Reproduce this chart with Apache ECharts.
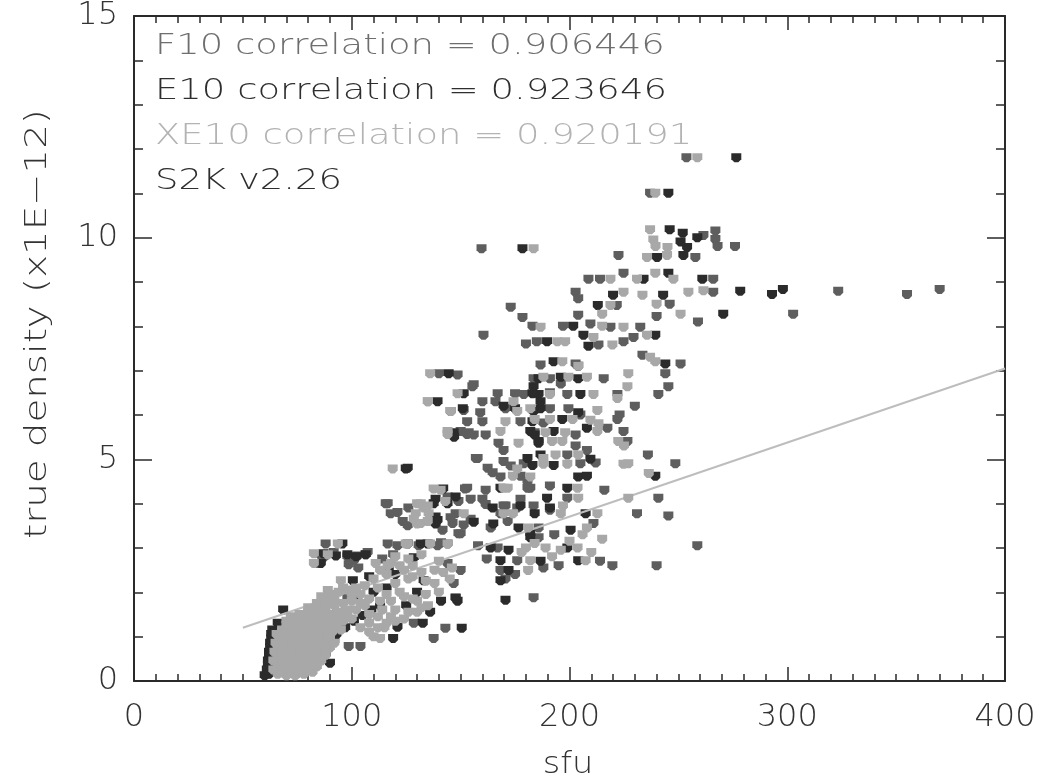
<!DOCTYPE html>
<html>
<head>
<meta charset="utf-8">
<script src="https://cdn.jsdelivr.net/npm/echarts@6/dist/echarts.min.js"></script>
<style>
  html, body { margin: 0; padding: 0; background: #fff; }
  #chart { width: 1045px; height: 780px; }
</style>
</head>
<body>
<div id="chart"></div>
<script>
// correlation labels shown in the top-left corner
var legendLines = [
  'F10 correlation = 0.906446',
  'E10 correlation = 0.923646',
  'XE10 correlation = 0.920191',
  'S2K v2.26'
];

// sfu vs true density (x1E-12)
var f10Points = [
  [253.7,11.8],[237,11.0],[159.6,9.75],[222.5,9.6],[261.5,10.05],[267,10.15],[267,9.96],[268,9.8],[276,9.8],
  [257.8,9.55],[224.8,9.2],[208.7,9.06],[214,9.06],[266,9.06],[202.8,8.77],[204,8.62],[246,8.5],[266,8.77],
  [173,8.43],[178.4,8.2],[221.7,8.47],[259,8.1],[302.7,8.27],[323.4,8.79],[355,8.72],[370,8.83],[204,8.25],
  [240,8.22],[183,8.0],[197,8.0],[209.6,8.05],[218.8,7.98],[232.5,7.98],[160.5,7.8],[229.4,7.75],[213.3,7.58],
  [224.8,7.65],[180,7.6],[185,7.65],[233.5,7.35],[251,7.15],[186.7,7.13],[202.8,7.15],[244,6.93],[183.5,6.82],
  [191,6.82],[215.7,6.82],[245.4,6.64],[191,6.5],[179,6.46],[199,6.46],[222,6.46],[240.8,6.46],[170.6,6.14],
  [191,6.14],[199.5,6.14],[223,6.0],[188,5.82],[205,6.0],[222,5.9],[217.4,5.7],[184,5.6],[202.8,5.55],
  [224.8,5.63],[208,5.2],[202.8,5.3],[226.6,5.4],[199,5.1],[179,4.9],[205,4.9],[212,4.92],[248.6,4.9],
  [177.5,4.62],[182,4.35],[191,4.4],[240.8,4.12],[169.7,3.95],[183.5,3.95],[199,4.12],[168.3,3.77],[191,3.85],
  [231,3.77],[245.4,3.72],[163.8,3.45],[185.8,3.45],[185.8,3.23],[167,3.0],[258.7,3.05],[176,2.71],[195,2.6],
  [219.7,2.6],[240,2.6],[168.3,2.49],[175,2.4],[170.6,2.3],[183.5,1.88],
  [155.4,6.64],[167,6.48],[175,6.48],[160,6.3],[151.4,6.1],[159,6.05],[166,6.3],[177.5,5.85],[153,5.85],
  [160,5.85],[150,5.63],[153.7,5.6],[156,5.55],[161.5,5.55],[167.4,5.36],[169.7,5.2],[157.8,5.02],[162.4,4.8],
  [164.7,4.7],[169.7,4.95],[173,4.85],[168.3,4.6],[180.7,4.5],[153,4.35],[144,4.15],[161.5,4.3],[180.7,4.35],
  [116.5,4.0],[121,3.8],[126,3.9],[154.6,4.1],[160,4.1],[161.5,3.98],[170.6,3.95],[177.5,4.1],[117.9,3.77],
  [123.4,3.6],[147.7,3.77],[176,3.9],[125.7,3.5],[141.7,3.4],[146.3,3.55],[151.4,3.52],[171.6,3.6],[150,3.32],
  [88,3.09],[116.5,3.09],[121,3.05],[130.7,3.05],[139.4,3.05],[91.7,2.9],[102.7,2.82],[107.3,2.9],[85.8,2.83],
  [98,2.8],[106.4,2.85],[98.6,2.62],[103,2.55],
  [140,6.93],[148.6,6.9],[156,6.68],[145.4,6.08],[153,5.56],[157,5.02],[152,4.33],[115.6,4.0],[149,4.05],
  [145.4,3.68],[154.6,3.65],[149,3.32],[144,3.09],[141,3.12],[87,2.78],[101,2.72],[114,2.75],[119,2.85],
  [144,2.65],[150,2.49],[146.8,2.2],[98,1.88],[84.4,2.65],
  [137.6,0.96],[143,1.19],[128.5,1.3],[98.6,0.78],[104,0.78],[214,2.7],[147.7,1.88],[79,0.25],
  [158,3.05],[162,2.75],[188,2.55],[193,3.3],[211,3.55],[216,4.3],[196,6.7],[230,6.2],[236,5.1]
];

var e10Points = [
  [276.6,11.8],[245.4,11.0],[178.4,9.75],[246,10.18],[252,10.1],[251,9.9],[258.7,10.0],[254,9.78],[240.2,9.55],
  [252.3,9.6],[245.4,9.2],[234,9.06],[261,9.06],[220,8.7],[243,8.7],[278.4,8.79],[293,8.72],[298,8.83],
  [213,8.47],[270.6,8.27],[201.7,8.0],[206.4,7.8],[239.4,7.8],[189.7,7.65],[208.7,7.55],[244,7.15],[192.7,7.2],
  [204,7.1],[185.8,6.82],[196,6.85],[204,6.82],[185.8,6.46],[205,6.46],[175,6.14],[186.7,6.14],[204,6.05],
  [196.7,5.9],[182,5.63],[192.7,5.63],[208,5.7],[185.8,5.4],[186.7,5.1],[209.6,5.0],[183,4.86],[192.7,4.86],
  [204,4.6],[208,4.62],[239.4,4.62],[199,4.35],[189.7,4.12],[177.5,3.95],[191,3.9],[184,3.77],[207.4,3.77],
  [176.6,3.45],[200.5,3.4],[182,3.23],[163.8,3.0],[172,2.95],[199,3.0],[168.3,2.71],[186.7,2.7],[204,2.71],
  [172,2.49],[168.3,2.26],[170.6,1.82],[150.5,1.19],
  [183.5,6.64],[183,6.48],[151.4,6.48],[139.4,6.3],[169.7,6.2],[186.7,6.3],[183.5,6.08],[183,5.85],[146.8,5.6],
  [184,5.55],[185.8,5.36],[180.7,5.02],[124.8,4.78],[168.3,4.35],[138.5,4.1],[147.7,4.15],[164.7,3.9],
  [138.5,3.54],[156,3.58],[165,3.54],[182,3.32],[95.7,3.09],[125.7,3.09],[134.9,3.09],[98,2.85],[87,2.87],
  [92.7,2.82],[85.8,2.65],[102,2.8],
  [144.5,6.93],[151,6.14],[147,5.5],[125.7,4.8],[142,4.33],[137.6,4.0],[144,4.0],[138.5,3.7],[139.4,3.62],
  [131.7,3.09],[106.4,2.85],[128.5,2.78],[117,2.49],[133,2.26],[147.7,1.86],[100.5,2.26],[101,1.88],
  [119,0.96],[121,1.21],[132.6,1.3],[141,1.8],[148.6,1.8],
  [62,0.15],[61.5,0.35],[62,0.55],[62.5,0.75],[63,0.95],[63.5,1.15],[60,0.12],[66,1.3],[68.5,1.6],
  [61,0.25],[61.5,0.45],[62,0.65],[62.5,0.85],[63,1.05],
  [93,1.05],[97,1.2],[101,1.35],[105,1.48],[109,1.6],[113,1.7],[88,0.6],[90,0.4],[92,0.9],
  [110,2.0],[116,2.1],[125,1.7],[130,2.0],[136,1.55],[120,2.4],[108,2.35]
];

var xe10Points = [
  [258.7,11.8],[239.4,11.0],[183.5,9.75],[237,10.18],[238.5,9.95],[239.5,9.8],[245,9.78],[235.6,9.55],[244.8,9.6],
  [239.4,9.2],[218.8,9.06],[231,9.06],[247.7,9.06],[224.8,8.77],[233.5,8.7],[240,8.5],[254.6,8.77],[261.5,8.8],
  [218.8,8.47],[251,8.27],[215,8.27],[186.7,7.98],[215,8.0],[224.8,7.98],[211,7.75],[235.6,7.8],[194.4,7.65],
  [198,7.65],[219.7,7.58],[237,7.3],[239.4,7.2],[196.7,7.2],[204,7.1],[227,6.93],[188,6.85],[199.5,6.85],
  [208,6.85],[226.6,6.64],[222,6.37],[191,6.46],[211,6.46],[182,6.14],[212.8,6.1],[184,5.9],[191,5.9],
  [201.4,5.9],[209.6,5.88],[213.3,5.8],[189,5.6],[198,5.6],[212.8,5.63],[192,5.4],[196.7,5.4],[222.4,5.4],
  [225,5.3],[193.6,5.1],[204,5.1],[188,4.89],[199,4.89],[224.8,4.89],[227,4.9],[174,4.62],[182,4.6],
  [236.4,4.68],[169.7,4.35],[203.7,4.35],[204,4.12],[227,4.12],[197,3.95],[174,3.77],[196,3.77],[212.8,3.77],
  [181,3.45],[208,3.45],[215,3.2],[180,3.0],[189,3.0],[203.7,3.0],[182,2.71],[207.4,2.71],[181,2.49],
  [148.6,6.48],[134.9,6.3],[174.3,6.3],[145.4,6.08],[176,6.08],[170.6,5.85],[144,5.63],[168.3,5.63],[176.6,5.36],
  [188,5.02],[118.8,4.78],[176,4.78],[140.8,4.3],[171.6,4.35],[130,4.0],[143,4.05],[133,3.9],[129.4,3.77],
  [135.3,3.77],[151.4,3.77],[169.7,3.77],[130,3.54],[144,3.09],[82.6,2.87],[93.6,3.09],[124.8,3.09],[89,2.85],
  [82.6,2.65],
  [136,6.93],[135,6.3],[144,5.56],[137.6,4.33],[131.7,4.0],[134.9,3.95],[128.5,3.65],[131.7,3.55],[134.9,3.6],
  [125.7,3.09],[136,3.09],[116.5,2.6],[113,1.8],[116,1.95],[120,2.2],[124,2.5],[113,2.5],[118,2.65],
  [122,2.0],[126,2.3],[128,1.85],[95,2.26],[89,2.04],
  [110,1.0],[113,0.96],[115,1.2],[108,1.3],[112,1.45],[118,1.45],[124,1.4],[130,1.55],[135,1.7],[140,2.0],
  [145,2.3],[138,2.5],[132,2.45],[128,2.6],[104,1.75],[100,1.95],[96,2.1],[106,2.15],
  [104,1.2],[108,1.1],[112,1.2],[116,1.3],[120,1.35],[108,1.5],[114,1.6],[120,1.6],[126,1.55],[132,1.65],
  [104,1.95],[108,1.85],[112,2.1],[118,1.8],[124,1.9],[130,1.8],[134,1.95],[138,2.2],[142,2.45],[110,2.3],
  [116,2.4],[122,2.6],[128,2.35],[134,2.25],[140,2.7],[146,2.55],[120,2.8],[126,2.75],[132,2.85],[111,2.65],
  [178,2.9],[184,3.1],[192,2.8],[196,2.95],[200,3.15],[206,3.3],[210,2.9],
  [66,0.15],[70,0.12],[74,0.12],[78,0.15],[82,0.2],
  [66,0.35],[70,0.35],[74,0.35],[78,0.35],[82,0.4],[86,0.45],
  [66,0.55],[70,0.55],[74,0.55],[78,0.55],[82,0.6],[86,0.65],[90,0.75],
  [66,0.75],[70,0.75],[74,0.75],[78,0.75],[82,0.8],[86,0.85],[90,0.95],
  [67,0.95],[71,0.95],[75,0.95],[79,0.95],[83,1.0],[87,1.05],[91,1.1],[95,1.15],
  [68,1.15],[72,1.15],[76,1.15],[80,1.2],[84,1.2],[88,1.25],[92,1.3],[96,1.35],[100,1.4],
  [70,1.35],[74,1.35],[78,1.4],[82,1.45],[86,1.5],[90,1.5],[94,1.55],[98,1.6],[102,1.6],[106,1.7],
  [80,1.65],[84,1.75],[88,1.8],[92,1.85],
  [64,0.25],[68,0.25],[72,0.25],[76,0.25],[80,0.28],[84,0.32],
  [64,0.45],[68,0.45],[72,0.45],[76,0.45],[80,0.48],[84,0.52],[88,0.58],
  [64.5,0.65],[68,0.65],[72,0.65],[76,0.65],[80,0.68],[84,0.72],[88,0.78],[92,0.85],
  [65,0.85],[69,0.85],[73,0.85],[77,0.85],[81,0.88],[85,0.92],[89,0.98],
  [65.5,1.05],[69,1.05],[73,1.05],[77,1.05],[81,1.08],[85,1.12],[89,1.15],[93,1.22],
  [70,1.25],[74,1.25],[78,1.28],[82,1.32],[86,1.35],[90,1.4],[94,1.45],[98,1.5],
  [72,1.45],[76,1.5],[80,1.55],[84,1.6],[88,1.65],[92,1.7],[96,1.75],[100,1.8],
  [86,1.9],[90,1.95],[94,2.0],[98,2.05],[102,2.1]
];

// least squares line drawn across the plot
var fitLine = [[50, 1.2], [400, 7.05]];

var chart = echarts.init(document.getElementById('chart'));

var marker = 'path://M0,0L10,0L10,6L7,9L3,9L0,6Z';
var labelFont = '"DejaVu Sans", sans-serif';

function frameAxis(pos, isX, showLabel) {
  var a = {
    type: 'value',
    position: pos,
    min: 0,
    max: isX ? 400 : 15,
    interval: isX ? 100 : 5,
    axisLine: { show: true, onZero: false, lineStyle: { color: '#2a2a2a', width: 2 } },
    axisTick: { show: true, inside: true, length: isX ? 14 : 18, lineStyle: { color: '#2a2a2a', width: 1.5 } },
    minorTick: { show: true, splitNumber: isX ? 10 : 5, length: isX ? 7 : 9, lineStyle: { color: '#2a2a2a', width: 1.5 } },
    splitLine: { show: false },
    axisLabel: {
      show: showLabel,
      fontSize: 32,
      fontWeight: 200,
      fontFamily: labelFont,
      color: '#333',
      margin: isX ? 21 : 16
    }
  };
  return a;
}

var graphics = [];
var legendColors = ['#6e6e6e', '#2e2e2e', '#b3b3b3', '#2e2e2e'];
var legendY = [47, 92, 137, 182];
for (var i = 0; i < legendLines.length; i++) {
  graphics.push({
    type: 'text', x: 155, y: legendY[i], scaleX: 1.32,
    style: {
      text: legendLines[i], fill: legendColors[i],
      fontSize: 28, fontWeight: 200, fontFamily: labelFont,
      textAlign: 'left', textVerticalAlign: 'middle'
    }
  });
}
graphics.push({
  type: 'text', x: 568, y: 765, scaleX: 1.12,
  style: { text: 'sfu', fill: '#333', fontSize: 30, fontWeight: 200, fontFamily: labelFont, textAlign: 'center', textVerticalAlign: 'middle' }
});
graphics.push({
  type: 'text', x: 38, y: 324, rotation: Math.PI / 2, scaleX: 1.29,
  style: { text: 'true density (x1E\u221212)', fill: '#333', fontSize: 30, fontWeight: 200, fontFamily: labelFont, textAlign: 'center', textVerticalAlign: 'middle' }
});

var option = {
  backgroundColor: '#ffffff',
  animation: false,
  grid: { left: 134, right: 40, top: 12, bottom: 99, containLabel: false },
  xAxis: [frameAxis('bottom', true, true), frameAxis('top', true, false)],
  yAxis: [frameAxis('left', false, true), frameAxis('right', false, false)],
  graphic: graphics,
  series: [
    {
      name: 'F10', type: 'scatter', data: f10Points, z: 2,
      symbol: marker, symbolSize: [10, 9],
      itemStyle: { color: '#5e5e5e', opacity: 1 }
    },
    {
      name: 'E10', type: 'scatter', data: e10Points, z: 3,
      symbol: marker, symbolSize: [10, 9],
      itemStyle: { color: '#2b2b2b', opacity: 1 }
    },
    {
      // fit line sits under the light XE10 points
      name: 'fit', type: 'line', data: fitLine, z: 4,
      symbol: 'none', silent: true,
      lineStyle: { color: '#bdbdbd', width: 2 }
    },
    {
      name: 'XE10', type: 'scatter', data: xe10Points, z: 5,
      symbol: marker, symbolSize: [10, 9],
      itemStyle: { color: '#a8a8a8', opacity: 1 }
    }
  ]
};

chart.setOption(option);
</script>
</body>
</html>
